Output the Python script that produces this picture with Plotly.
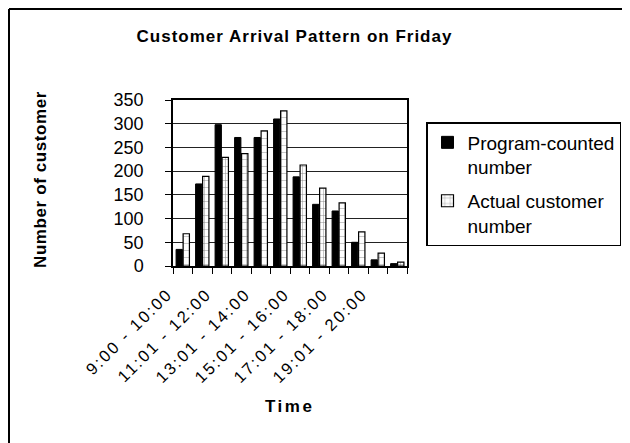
import plotly.graph_objects as go

categories = ["9:00 - 10:00", "10:01 - 11:00", "11:01 - 12:00", "12:01 - 13:00",
              "13:01 - 14:00", "14:01 - 15:00", "15:01 - 16:00", "16:01 - 17:00",
              "17:01 - 18:00", "18:01 - 19:00", "19:01 - 20:00", "20:01 - 21:00"]
program_counted = [35, 173, 298, 271, 271, 310, 188, 130, 116, 50, 13, 5]
actual_customers = [68, 189, 229, 237, 285, 327, 213, 164, 133, 72, 27, 8]
series_names = ["Program-counted<br>number", "Actual customer<br>number"]


def spaced(text, px_):
    return f'<span style="letter-spacing:{px_}px">{text}</span>'


tick_labels = [spaced(c, 2.2) if i % 2 == 0 else "" for i, c in enumerate(categories)]

# page body has an 8px margin: figure drawn from (8, 8) of the window
OFF = 8
W, H = 630 - OFF, 443 - OFF
# plot area in window pixels: x 173..407, y 100..266
L, T = 173 - OFF, 100 - OFF
R = W - (407 - OFF)
B = H - (266 - OFF)
PW, PH = W - L - R, H - T - B


def px(x):
    return (x - OFF - L) / PW


def py(y):
    return (H - B - (y - OFF)) / PH


FONT = "Liberation Sans, Arial, sans-serif"

fig = go.Figure()
fig.add_trace(go.Bar(
    x=categories, y=program_counted, name=series_names[0], legendgroup="prog",
    marker=dict(color="black", line=dict(color="black", width=1)),
))
fig.add_trace(go.Bar(
    x=categories, y=actual_customers, name=series_names[1], legendgroup="act",
    marker=dict(color="white", line=dict(color="black", width=1.2),
                pattern=dict(shape="+", fgcolor="black", bgcolor="white",
                             size=7, solidity=0.12)),
))

fig.update_layout(
    width=W, height=H,
    margin=dict(l=L, r=R, t=T, b=B, autoexpand=False),
    paper_bgcolor="white", plot_bgcolor="white",
    barmode="group", bargap=0.28, bargroupgap=0.1,
    font=dict(family=FONT, size=18, color="black"),
    title=dict(text="<b>" + spaced("Customer Arrival Pattern on Friday", 1) + "</b>",
               x=px(294.5), xref="paper", xanchor="center",
               y=1 - (36 - OFF) / H, yref="container", yanchor="middle",
               font=dict(size=17, family=FONT)),
    legend=dict(x=px(426), y=py(122), xanchor="left", yanchor="top",
                bordercolor="black", borderwidth=1.5, bgcolor="white",
                font=dict(size=19, family=FONT), tracegroupgap=6,
                itemwidth=30, valign="top"),
    showlegend=True,
    annotations=[
        dict(text="<b>" + spaced("Number of customer", 0.6) + "</b>", textangle=-90,
             x=px(40), y=py(180), xref="paper", yref="paper",
             xanchor="center", yanchor="middle", showarrow=False,
             font=dict(size=17, family=FONT)),
        dict(text="<b>" + spaced("Time", 2.5) + "</b>",
             x=px(289), y=py(406), xref="paper", yref="paper",
             xanchor="center", yanchor="middle", showarrow=False,
             font=dict(size=17, family=FONT)),
    ],
)
fig.update_xaxes(
    tickvals=categories, ticktext=tick_labels, tickangle=-45,
    tickson="boundaries", ticks="outside", ticklen=6, tickcolor="black",
    showline=True, linecolor="black", linewidth=1.5, mirror=True,
    showgrid=False, tickfont=dict(size=16.5), ticklabelstandoff=10,
    ticklabelshift=-15,
)
fig.update_yaxes(
    range=[0, 350], dtick=50, ticks="outside", ticklen=6, tickcolor="black",
    showline=True, linecolor="black", linewidth=1.5, mirror=True,
    showgrid=True, gridcolor="#222", gridwidth=1, tickfont=dict(size=18),
    ticklabelstandoff=18, zeroline=False,
)
# Outer chart frame (only top and left edges visible in view)
fig.add_shape(type="line", xref="paper", yref="paper",
              x0=px(9), x1=px(640), y0=py(9), y1=py(9),
              line=dict(color="black", width=2))
fig.add_shape(type="line", xref="paper", yref="paper",
              x0=px(9), x1=px(9), y0=py(9), y1=py(450),
              line=dict(color="black", width=2))

fig.write_html("out.html")
